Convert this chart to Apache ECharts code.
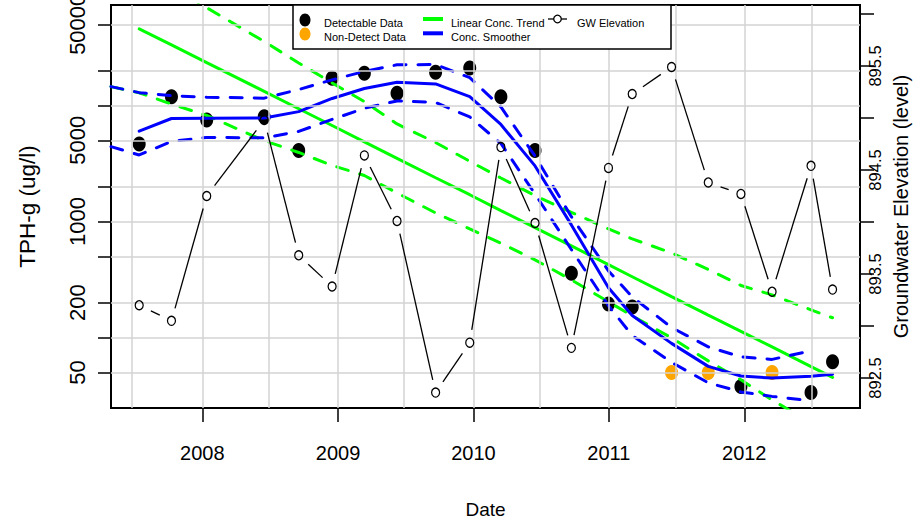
<!DOCTYPE html>
<html>
<head>
<meta charset="utf-8">
<script src="https://cdn.jsdelivr.net/npm/echarts@6.0.0/dist/echarts.min.js"></script>
<style>
html,body{margin:0;padding:0;background:#fff;}
#chart{width:918px;height:526px;}
</style>
</head>
<body>
<div id="chart"></div>
<script>
// ---------------- data ----------------
const sampleDates = ['2007-07-15','2007-10-10','2008-01-13','2008-06-16','2008-09-17','2008-12-16',
  '2009-03-13','2009-06-09','2009-09-21','2009-12-22','2010-03-16','2010-06-16','2010-09-22',
  '2010-12-31','2011-03-05','2011-06-19','2011-09-26','2011-12-23','2012-03-16','2012-06-29','2012-08-26'];
const tphValues = [4660, 11900, 7490, 8000, 4080, 17100, 18900, 12700, 19300, 21000, 11900, 4080,
  358, 194, 183, 50, 50, 37.8, 50, 33.6, 61.7];
const nonDetect = [0,0,0,0,0,0,0,0,0,0,0,0,0,0,0,1,1,0,1,0,0];
const gwElevation = [893.20, 893.05, 894.25, 894.98, 893.68, 893.38, 894.64, 894.01, 892.36, 892.84,
  894.72, 893.99, 892.79, 894.52, 895.23, 895.49, 894.38, 894.27, 893.33, 894.54, 893.35];
const trendFit = [45700, 33200, 23400, 13200, 9360, 6710, 4850, 3500, 2380, 1700, 1240, 884, 616,
  424, 334, 225, 156, 113, 83.1, 56.2, 45.4];
const bandStartDate = '2007-04-30';
const trendUpper = [266000, 158900, 107300, 69500, 35540, 23210, 15610, 10770, 6920, 4790, 3300, 2370,
  1670, 1200, 863, 708, 536, 386, 281, 233, 173, 148];
const trendLower = [14510, 12850, 10270, 8190, 4970, 3930, 3040, 2490, 1760, 1185, 863, 650, 467,
  314, 203, 154, 99.3, 62.9, 43.2, 29.0, 18.4, 13.9];
const smoothFit = [6000, 7710, 7750, 7780, 8840, 11480, 14000, 15830, 15300, 11900, 6850, 3010, 934,
  268, 155, 89.0, 56.4, 46.6, 44.7, 46.3, 48.3];
const smoothUpper = [14510, 12880, 12120, 11760, 11550, 13700, 16600, 19610, 22400, 22480, 17340, 9700,
  3660, 1100, 375, 224, 122, 83.1, 68.1, 64.8, 76.8];
const smoothLower = [4410, 3740, 4890, 5300, 5250, 5970, 7570, 9450, 10930, 10600, 7950, 4700, 1727,
  573, 188, 104, 61.1, 40.7, 34.0, 31.1, 28.5];

// axis ticks / labels
const yearTicks = ['2008-01-01','2009-01-01','2010-01-01','2011-01-01','2012-01-01'];
const tphTicks = [50, 100, 200, 500, 1000, 2000, 5000, 10000, 20000, 50000];
const tphLabels = [50, 200, 1000, 5000, 50000];
const gwTicks = [892.5, 893, 893.5, 894, 894.5, 895, 895.5, 896];
const gwLabels = [892.5, 893.5, 894.5, 895.5];
const legendLabels = ['Detectable Data', 'Non-Detect Data', 'Linear Conc. Trend', 'Conc. Smoother', 'GW Elevation'];
const seriesNames = ['Detectable Data', 'Non-Detect Data', 'Linear Conc. Trend', 'Conc. Smoother', 'GW Elevation'];

// ---------------- layout / style ----------------
const xMin = '2007-04-30', xMax = '2012-11-08';
const verticalGridDates = ['2007-06-26','2008-01-01','2008-06-27','2009-01-01','2009-06-28','2010-01-01',
  '2010-06-30','2011-01-01','2011-07-01','2012-01-01','2012-06-30'];
const FONT = "'Liberation Sans', Arial, Helvetica, sans-serif";
const GREEN = '#00ff00', BLUE = '#0000ff', ORANGE = '#ffa500', GRIDC = '#d3d3d3';

const P = v => echarts.time.parse(v).getTime();
const chart = echarts.init(document.getElementById('chart'), null, {renderer: 'svg', width: 918, height: 526});

const pairs = (dates, vals) => vals.map((v, i) => [P(dates[i]), v]);
const detect = [], nd = [];
sampleDates.forEach((d, i) => (nonDetect[i] ? nd : detect).push([P(d), tphValues[i]]));
const trendBandDates = [bandStartDate].concat(sampleDates);
const smoothBandDates = [bandStartDate].concat(sampleDates.slice(0, smoothUpper.length - 1));
const gwSegments = [];
for (let i = 0; i < sampleDates.length - 1; i++) {
  gwSegments.push([P(sampleDates[i]), gwElevation[i], P(sampleDates[i + 1]), gwElevation[i + 1]]);
}

const dashed = (color) => ({color: color, width: 3, type: [12, 12], cap: 'round', opacity: 1});
const solid = (color) => ({color: color, width: 3, type: 'solid', cap: 'round', opacity: 1});

const lineSeries = (name, dates, vals, style, z) => ({
  name: name, type: 'line', data: pairs(dates, vals), showSymbol: false, symbol: 'none',
  lineStyle: style, z: z, silent: true, clip: true, xAxisIndex: 0, yAxisIndex: 0,
  emphasis: {disabled: true}
});

const option = {
  animation: false,
  textStyle: {fontFamily: FONT},
  grid: {left: 111, right: 58, top: 5, bottom: 118, show: true, borderColor: '#000', borderWidth: 2,
    backgroundColor: 'transparent', containLabel: false, outerBoundsMode: 'none'},
  xAxis: {
    type: 'value', min: P(xMin), max: P(xMax), scale: true,
    axisLine: {show: true, onZero: false, lineStyle: {color: '#000', width: 2}},
    axisTick: {show: true, length: 14, lineStyle: {color: '#000', width: 1.5}, customValues: yearTicks.map(P)},
    axisLabel: {customValues: yearTicks.map(P), formatter: v => String(new Date(v).getFullYear()),
      color: '#000', fontSize: 20, fontFamily: FONT, margin: 35},
    splitLine: {show: false}, minorTick: {show: false},
    name: 'Date', nameLocation: 'middle', nameGap: 92,
    nameTextStyle: {color: '#000', fontSize: 19, fontFamily: FONT}
  },
  yAxis: [{
    type: 'log', logBase: 10, min: 24.7, max: 73300, position: 'left',
    axisLine: {show: true, onZero: false, lineStyle: {color: '#000', width: 2}},
    axisTick: {show: true, length: 13, lineStyle: {color: '#000', width: 1.5}, customValues: tphTicks},
    axisLabel: {customValues: tphLabels, rotate: 90, formatter: v => String(Math.round(v)),
      color: '#000', fontSize: 22, fontFamily: FONT, margin: 23},
    splitLine: {show: false}, minorTick: {show: false},
    name: 'TPH-g (ug/l)', nameLocation: 'middle', nameRotate: 90, nameGap: 72,
    nameTextStyle: {color: '#000', fontSize: 22.5, fontFamily: FONT}
  }, {
    type: 'value', min: 892.212, max: 896.086, position: 'right', scale: true,
    axisLine: {show: true, onZero: false, lineStyle: {color: '#000', width: 2}},
    axisTick: {show: true, length: 14, lineStyle: {color: '#000', width: 1.5}, customValues: gwTicks},
    axisLabel: {customValues: gwLabels, rotate: 90, formatter: v => Number(v).toFixed(1),
      color: '#000', fontSize: 16.5, fontFamily: FONT, margin: 6},
    splitLine: {show: false},
    name: 'Groundwater Elevation (level)', nameLocation: 'middle', nameRotate: 90, nameGap: 21,
    nameTextStyle: {color: '#000', fontSize: 20, fontFamily: FONT}
  }],
  series: [
    { // grid lines
      name: 'grid', type: 'line', data: [], z: 1, silent: true, xAxisIndex: 0, yAxisIndex: 0,
      markLine: {
        silent: true, animation: false, symbol: ['none', 'none'], label: {show: false},
        emphasis: {disabled: true},
        lineStyle: {color: GRIDC, width: 1.5, type: 'solid', opacity: 1},
        data: verticalGridDates.map(d => ({xAxis: P(d)})).concat(tphTicks.map(v => ({yAxis: v})))
      }
    },
    {
      name: seriesNames[0], type: 'scatter', data: detect, symbol: 'circle', symbolSize: [13, 15],
      itemStyle: {color: '#000', opacity: 1}, z: 2, silent: true, xAxisIndex: 0, yAxisIndex: 0
    },
    {
      name: seriesNames[1], type: 'scatter', data: nd, symbol: 'circle', symbolSize: [13, 15],
      itemStyle: {color: ORANGE, opacity: 1}, z: 2, silent: true, xAxisIndex: 0, yAxisIndex: 0
    },
    lineSeries(seriesNames[2], sampleDates, trendFit, solid(GREEN), 3),
    lineSeries(seriesNames[2] + ' upper', trendBandDates, trendUpper, dashed(GREEN), 3),
    lineSeries(seriesNames[2] + ' lower', trendBandDates, trendLower, dashed(GREEN), 3),
    lineSeries(seriesNames[3], sampleDates, smoothFit, solid(BLUE), 4),
    lineSeries(seriesNames[3] + ' upper', smoothBandDates, smoothUpper, dashed(BLUE), 4),
    lineSeries(seriesNames[3] + ' lower', smoothBandDates, smoothLower, dashed(BLUE), 4),
    {
      name: seriesNames[4], type: 'custom', xAxisIndex: 0, yAxisIndex: 1, z: 5, silent: true,
      encode: {x: [0, 2], y: [1, 3]},
      data: gwSegments,
      renderItem: function (params, api) {
        const a = api.coord([api.value(0), api.value(1)]);
        const b = api.coord([api.value(2), api.value(3)]);
        const dx = b[0] - a[0], dy = b[1] - a[1];
        const len = Math.sqrt(dx * dx + dy * dy);
        const gap = 13;
        if (len <= 2 * gap) return null;
        const ux = dx / len, uy = dy / len;
        return {
          type: 'line',
          shape: {x1: a[0] + ux * gap, y1: a[1] + uy * gap, x2: b[0] - ux * gap, y2: b[1] - uy * gap},
          style: {stroke: '#000', lineWidth: 1.3}
        };
      }
    },
    {
      name: seriesNames[4] + ' points', type: 'scatter', xAxisIndex: 0, yAxisIndex: 1, z: 5, silent: true,
      data: pairs(sampleDates, gwElevation), symbol: 'circle', symbolSize: [8, 9],
      itemStyle: {color: 'rgba(0,0,0,0)', borderColor: '#000', borderWidth: 1.3, opacity: 1}
    }
  ],
  graphic: [
    {type: 'rect', z: 100, shape: {x: 293, y: 5, width: 378, height: 44},
      style: {fill: '#fff', stroke: '#000', lineWidth: 1.5}},
    {type: 'ellipse', z: 101, shape: {cx: 305, cy: 20, rx: 5.5, ry: 6.5}, style: {fill: '#000'}},
    {type: 'ellipse', z: 101, shape: {cx: 305, cy: 34, rx: 5.5, ry: 6.5}, style: {fill: ORANGE}},
    {type: 'line', z: 101, shape: {x1: 423, y1: 19, x2: 443, y2: 19}, style: {stroke: GREEN, lineWidth: 4}},
    {type: 'line', z: 101, shape: {x1: 423, y1: 33.3, x2: 443, y2: 33.3}, style: {stroke: BLUE, lineWidth: 4}},
    {type: 'line', z: 101, shape: {x1: 548, y1: 19, x2: 567, y2: 19}, style: {stroke: '#000', lineWidth: 1.3}},
    {type: 'circle', z: 102, shape: {cx: 557.5, cy: 19, r: 3.8}, style: {fill: '#fff', stroke: '#000', lineWidth: 1.3}},
    {type: 'text', z: 101, x: 324, y: 23, style: {text: legendLabels[0], fontSize: 11, fontFamily: FONT, fill: '#000', verticalAlign: 'middle'}},
    {type: 'text', z: 101, x: 324, y: 36.5, style: {text: legendLabels[1], fontSize: 11, fontFamily: FONT, fill: '#000', verticalAlign: 'middle'}},
    {type: 'text', z: 101, x: 451, y: 23, style: {text: legendLabels[2], fontSize: 11, fontFamily: FONT, fill: '#000', verticalAlign: 'middle'}},
    {type: 'text', z: 101, x: 451, y: 36.5, style: {text: legendLabels[3], fontSize: 11, fontFamily: FONT, fill: '#000', verticalAlign: 'middle'}},
    {type: 'text', z: 101, x: 577, y: 23, style: {text: legendLabels[4], fontSize: 11, fontFamily: FONT, fill: '#000', verticalAlign: 'middle'}}
  ]
};
chart.setOption(option);
</script>
</body>
</html>
